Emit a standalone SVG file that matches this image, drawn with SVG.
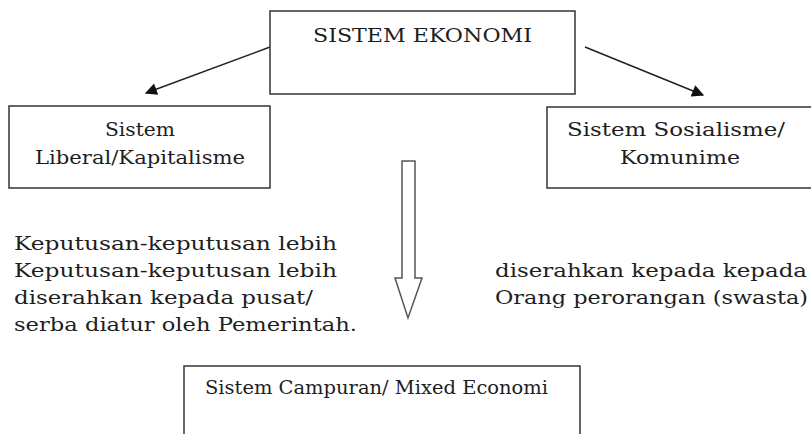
<svg xmlns="http://www.w3.org/2000/svg" width="811" height="434" viewBox="0 0 811 434">
  <defs>
    <style>
      .box { fill: #ffffff; stroke: #333333; stroke-width: 1.5; }
      .txt { font-family: "DejaVu Serif", "Liberation Serif", serif; font-size: 18px; fill: #1e1e1e; }
      .link { stroke: #222222; stroke-width: 1.5; fill: none; }
      .hollow { fill: #ffffff; stroke: #555555; stroke-width: 1.5; stroke-linejoin: miter; }
    </style>
    <marker id="head" viewBox="0 0 10 10" refX="9" refY="5" markerWidth="13" markerHeight="12" markerUnits="userSpaceOnUse" orient="auto">
      <path d="M0,0 L10,5 L0,10 Z" fill="#111111"/>
    </marker>
  </defs>

  <rect width="811" height="434" fill="#ffffff"/>

  <!-- connectors -->
  <g id="connectors">
    <line class="link" x1="270" y1="47" x2="146" y2="93" marker-end="url(#head)"/>
    <line class="link" x1="585" y1="47" x2="703" y2="95" marker-end="url(#head)"/>
    <polygon id="down-arrow" class="hollow" points="402,161 415,161 415,278 422,278 408,318 395,278 402,278"/>
  </g>

  <!-- top node -->
  <g id="sistem-ekonomi">
    <rect class="box" x="270" y="11" width="305" height="83"/>
    <text class="txt" x="313" y="42" textLength="219" lengthAdjust="spacingAndGlyphs">SISTEM EKONOMI</text>
  </g>

  <!-- left node -->
  <g id="sistem-liberal">
    <rect class="box" x="9" y="106" width="261" height="82"/>
    <text class="txt" x="105" y="136" textLength="70" lengthAdjust="spacingAndGlyphs">Sistem</text>
    <text class="txt" x="35" y="164" textLength="210" lengthAdjust="spacingAndGlyphs">Liberal/Kapitalisme</text>
  </g>

  <!-- right node -->
  <g id="sistem-sosialisme">
    <rect class="box" x="547" y="107" width="274" height="81"/>
    <text class="txt" x="567" y="136" textLength="218" lengthAdjust="spacingAndGlyphs">Sistem Sosialisme/</text>
    <text class="txt" x="620" y="164" textLength="120" lengthAdjust="spacingAndGlyphs">Komunime</text>
  </g>

  <!-- free text, left -->
  <g id="keterangan-kiri">
    <text class="txt" x="14" y="250" textLength="323" lengthAdjust="spacingAndGlyphs">Keputusan-keputusan lebih</text>
    <text class="txt" x="14" y="277" textLength="323" lengthAdjust="spacingAndGlyphs">Keputusan-keputusan lebih</text>
    <text class="txt" x="14" y="304" textLength="299" lengthAdjust="spacingAndGlyphs">diserahkan kepada pusat/</text>
    <text class="txt" x="14" y="331" textLength="343" lengthAdjust="spacingAndGlyphs">serba diatur oleh Pemerintah.</text>
  </g>

  <!-- free text, right -->
  <g id="keterangan-kanan">
    <text class="txt" x="495" y="277" textLength="312" lengthAdjust="spacingAndGlyphs">diserahkan kepada kepada</text>
    <text class="txt" x="495" y="304" textLength="313" lengthAdjust="spacingAndGlyphs">Orang perorangan (swasta)</text>
  </g>

  <!-- bottom node -->
  <g id="sistem-campuran">
    <rect class="box" x="184" y="366" width="396" height="100"/>
    <text class="txt" x="205" y="394" textLength="343" lengthAdjust="spacingAndGlyphs">Sistem Campuran/ Mixed Economi</text>
  </g>
</svg>
